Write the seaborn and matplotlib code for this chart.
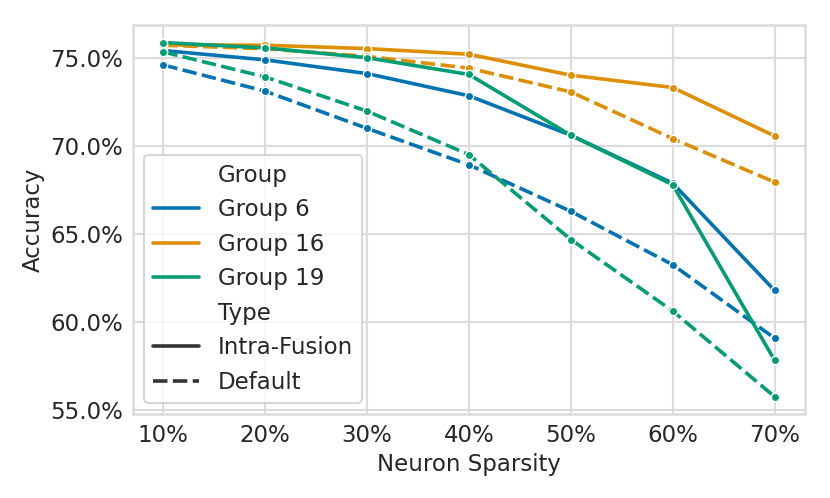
import numpy as np
import pandas as pd
import matplotlib
matplotlib.use("Agg")
import matplotlib.pyplot as plt
import seaborn as sns
from matplotlib.ticker import PercentFormatter, MultipleLocator

# sparsity levels (%)
sparsity = [10, 20, 30, 40, 50, 60, 70]

# accuracy (%)
g6_intra = [75.40, 74.87, 74.09, 72.83, 70.59, 67.87, 61.78]
g6_default = [74.58, 73.09, 70.98, 68.91, 66.27, 63.24, 59.07]
g16_intra = [75.72, 75.70, 75.51, 75.19, 74.00, 73.30, 70.55]
g16_default = [75.70, 75.50, 75.07, 74.40, 73.05, 70.40, 67.93]
g19_intra = [75.85, 75.55, 74.99, 74.04, 70.59, 67.78, 57.82]
g19_default = [75.32, 73.90, 71.96, 69.49, 64.67, 60.61, 55.75]

groups = ["Group 6", "Group 16", "Group 19"]
types = ["Intra-Fusion", "Default"]

series = {
    ("Group 6", "Intra-Fusion"): g6_intra,
    ("Group 6", "Default"): g6_default,
    ("Group 16", "Intra-Fusion"): g16_intra,
    ("Group 16", "Default"): g16_default,
    ("Group 19", "Intra-Fusion"): g19_intra,
    ("Group 19", "Default"): g19_default,
}

rows = []
for (grp, typ), vals in series.items():
    for s, v in zip(sparsity, vals):
        rows.append({"Neuron Sparsity": s, "Accuracy": v, "Group": grp, "Type": typ})
df = pd.DataFrame(rows)

sns.set_theme(style="whitegrid", context="talk", palette="colorblind",
              rc={"grid.color": "#dcdcdc", "axes.edgecolor": "#dcdcdc",
                  "axes.labelsize": 16.5,
                  "xtick.major.size": 0, "ytick.major.size": 0,
                  "xtick.major.pad": 7, "ytick.major.pad": 7})

fig, ax = plt.subplots(figsize=(8.3, 4.98), dpi=100)
fig.subplots_adjust(left=0.160, right=0.970, top=0.950, bottom=0.168)

sns.lineplot(data=df, x="Neuron Sparsity", y="Accuracy", hue="Group", style="Type",
             hue_order=groups, style_order=types, marker="o", markersize=6,
             markeredgecolor="white", markeredgewidth=1, linewidth=2.6, ax=ax)

ax.xaxis.set_major_locator(MultipleLocator(10))
ax.xaxis.set_major_formatter(PercentFormatter(xmax=100, decimals=0))
ax.yaxis.set_major_locator(MultipleLocator(5))
ax.yaxis.set_major_formatter(PercentFormatter(xmax=100, decimals=1))

# legend lines without markers, as in the original
handles, labels = ax.get_legend_handles_labels()
for h in handles:
    h.set_marker("")
ax.legend(handles, labels, loc="lower left")

plt.savefig("out.png")
